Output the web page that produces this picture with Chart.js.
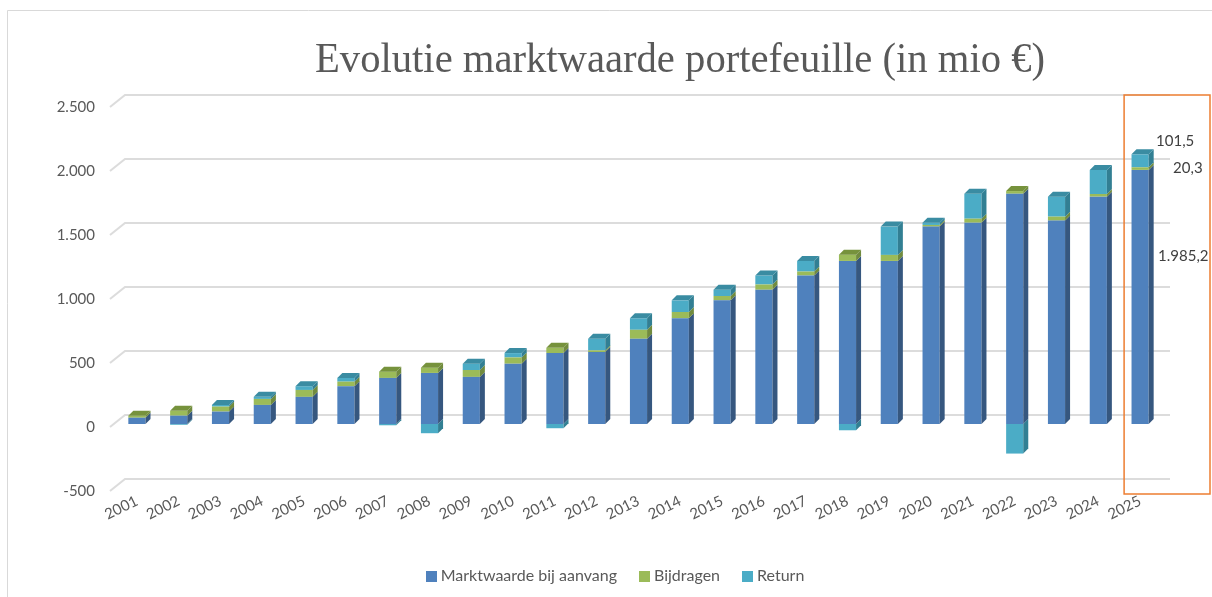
<!DOCTYPE html>
<html>
<head>
<meta charset="utf-8">
<script src="https://cdn.jsdelivr.net/npm/chart.js@4.4.1/dist/chart.umd.min.js"></script>
<style>
  html, body { margin: 0; padding: 0; background: #fff; }
  #wrap { position: relative; width: 1212px; height: 597px; }
  #legend { position: absolute; left: 0; width: 1230px; top: 565px; text-align: center;
            font: 16px Lato, sans-serif; color: #595959; }
  #legend span.item { display: inline-block; margin: 0 11px; }
  #legend span.box { display: inline-block; width: 11px; height: 11px; margin-right: 4px; vertical-align: -1px; }
</style>
</head>
<body>
<div id="wrap">
  <canvas id="chart" width="1212" height="597"></canvas>
  <div id="legend"></div>
</div>
<script>
const years = ['2001', '2002', '2003', '2004', '2005', '2006', '2007', '2008', '2009', '2010',
  '2011', '2012', '2013', '2014', '2015', '2016', '2017', '2018', '2019', '2020',
  '2021', '2022', '2023', '2024', '2025'];
const startValue = [49, 65, 97, 149, 212, 295, 360, 399, 368, 471,
  554, 562, 666, 826, 966, 1049, 1160, 1274, 1274, 1542,
  1573, 1799, 1589, 1776, 1985.2];
const contributions = [16, 38, 39, 47, 54, 36, 49, 41, 54, 49,
  41, 13, 70, 49, 34, 41, 31, 49, 47, 13,
  31, 21, 31, 21, 20.3];
const returns = [0, -6, 13, 16, 29, 29, -10, -72, 49, 34,
  -33, 91, 90, 91, 49, 70, 83, -49, 221, 18,
  195, -231, 156, 188, 101.5];
const seriesNames = ['Marktwaarde bij aanvang', 'Bijdragen', 'Return'];
const yTicks = [-500, 0, 500, 1000, 1500, 2000, 2500];
const titleText = 'Evolutie marktwaarde portefeuille (in mio €)';

const frontColors = ['#4F81BD', '#9BBB59', '#4BACC6'];
const sideColors = ['#36577F', '#718B3E', '#327F93'];
const topColors = ['#42709F', '#76923C', '#3A8CA2'];
const depthX = 5, depthY = -5;

// Dutch number format: 1.985,2
function nl(v, dec) {
  const s = Math.abs(v).toFixed(dec || 0);
  const parts = s.split('.');
  const int = parts[0].replace(/\B(?=(\d{3})+(?!\d))/g, '.');
  return (v < 0 ? '-' : '') + int + (parts[1] ? ',' + parts[1] : '');
}

const decor = {
  id: 'decor',
  beforeDraw(chart) {
    const ctx = chart.ctx;
    ctx.save();
    ctx.fillStyle = '#fff';
    ctx.fillRect(0, 0, chart.width, chart.height);
    // outer frame, only left and top edges show
    ctx.strokeStyle = '#d9d9d9';
    ctx.lineWidth = 1;
    ctx.beginPath();
    ctx.moveTo(7.5, chart.height);
    ctx.lineTo(7.5, 10.5);
    ctx.lineTo(chart.width, 10.5);
    ctx.stroke();
    // title, squeezed a little like the narrow serif of the original
    ctx.fillStyle = '#595959';
    ctx.font = '42px "Liberation Serif", serif';
    ctx.textAlign = 'center';
    ctx.textBaseline = 'alphabetic';
    const w = ctx.measureText(titleText).width;
    const sx = 730 / w;
    ctx.translate(680, 72);
    ctx.scale(sx, 1);
    ctx.fillText(titleText, 0, 0);
    ctx.restore();
  },
  beforeDatasetsDraw(chart) {
    // back-wall gridlines with a slanted stub
    const ctx = chart.ctx, ys = chart.scales.y, area = chart.chartArea;
    ctx.save();
    ctx.lineWidth = 2;
    yTicks.forEach(v => {
      const p = ys.getPixelForValue(v);
      ctx.strokeStyle = '#dcdcdc';
      ctx.beginPath();
      ctx.moveTo(ys.right - 6, p + 3);
      ctx.lineTo(ys.right + 9, p - 9);
      ctx.lineTo(area.right + 9, p - 9);
      ctx.stroke();
    });
    ctx.restore();
  },
  afterDatasetsDraw(chart) {
    const ctx = chart.ctx;
    ctx.save();
    for (let i = 0; i < years.length; i++) {
      let topMost = null;
      chart.data.datasets.forEach((ds, d) => {
        const v = ds.data[i];
        if (!v) return;
        const el = chart.getDatasetMeta(d).data[i];
        const { x, y, base, width } = el.getProps(['x', 'y', 'base', 'width'], true);
        const right = x + width / 2;
        const top = Math.min(y, base), bottom = Math.max(y, base);
        ctx.fillStyle = sideColors[d];
        ctx.beginPath();
        ctx.moveTo(right, top);
        ctx.lineTo(right + depthX, top + depthY);
        ctx.lineTo(right + depthX, bottom + depthY);
        ctx.lineTo(right, bottom);
        ctx.closePath();
        ctx.fill();
        if (v > 0 && (!topMost || y < topMost.y)) topMost = { x, y, width, d };
      });
      if (topMost) {
        const l = topMost.x - topMost.width / 2, r = topMost.x + topMost.width / 2;
        ctx.fillStyle = topColors[topMost.d];
        ctx.beginPath();
        ctx.moveTo(l, topMost.y);
        ctx.lineTo(r, topMost.y);
        ctx.lineTo(r + depthX, topMost.y + depthY);
        ctx.lineTo(l + depthX, topMost.y + depthY);
        ctx.closePath();
        ctx.fill();
      }
    }

    // data labels on the last bar
    const last = years.length - 1;
    const els = [0, 1, 2].map(d => chart.getDatasetMeta(d).data[last]);
    ctx.fillStyle = '#404040';
    ctx.font = '15px Lato, sans-serif';
    ctx.textAlign = 'left';
    ctx.textBaseline = 'middle';
    ctx.fillText(nl(returns[last], 1), els[2].x + 16, els[2].y - 13);
    ctx.fillText(nl(contributions[last], 1), els[1].x + 33, (els[1].y + els[1].base) / 2);
    ctx.fillText(nl(startValue[last], 1), els[0].x + 18, (els[0].y + els[0].base) / 2 - 41);

    // highlight box round the last year
    const xs = chart.scales.x, ys = chart.scales.y;
    const bx = xs.getPixelForValue(last) - 16;
    const by = ys.getPixelForValue(yTicks[yTicks.length - 1]) - 9;
    const bb = ys.getPixelForValue(yTicks[0]) + 6;
    ctx.strokeStyle = '#ED7D31';
    ctx.lineWidth = 1.5;
    ctx.strokeRect(bx, by, chart.width - 2 - bx, bb - by);
    ctx.restore();
  }
};

const chart = new Chart(document.getElementById('chart'), {
  type: 'bar',
  data: {
    labels: years,
    datasets: [startValue, contributions, returns].map((data, d) => ({
      label: seriesNames[d],
      data: data,
      backgroundColor: frontColors[d],
      borderWidth: 0,
      categoryPercentage: 1,
      barPercentage: 0.41,
    })),
  },
  options: {
    responsive: false,
    devicePixelRatio: 1,
    animation: false,
    layout: { padding: { top: 104, right: 51, bottom: 39, left: 0 } },
    plugins: {
      legend: { display: false },
      tooltip: { enabled: false },
    },
    scales: {
      x: {
        stacked: true,
        grid: { display: false, drawTicks: false },
        border: { display: false },
        ticks: {
          color: '#595959',
          font: { family: 'Lato', size: 15 },
          minRotation: 26,
          maxRotation: 26,
          padding: 4,
          autoSkip: false,
        },
        afterFit(scale) { scale.height = 70; },
      },
      y: {
        stacked: true,
        min: yTicks[0],
        max: yTicks[yTicks.length - 1],
        grid: { display: false, drawTicks: false },
        border: { display: false },
        ticks: {
          stepSize: 500,
          color: '#595959',
          font: { family: 'Lato', size: 15 },
          padding: 21,
          labelOffset: 3,
          callback: v => nl(v, 0),
        },
        afterFit(scale) { scale.width = 116; },
      },
    },
  },
  plugins: [decor],
});

// legend
document.getElementById('legend').innerHTML = chart.data.datasets.map(ds =>
  '<span class="item"><span class="box" style="background:' + ds.backgroundColor + '"></span>' + ds.label + '</span>'
).join('');
</script>
</body>
</html>
